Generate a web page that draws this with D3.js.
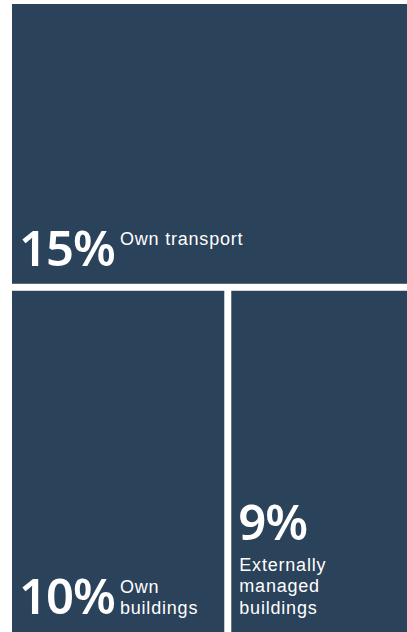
<!DOCTYPE html>
<html>
<head>
<meta charset="utf-8">
<script src="https://cdn.jsdelivr.net/npm/d3@7"></script>
<style>
  body { margin: 0; background: #fff; }
  text { fill: #fff; }
  .num { font-family: "Noto Sans", sans-serif; }
  .lbl { font-family: "Liberation Sans", Arial, sans-serif; }
</style>
</head>
<body>
<div id="chart"></div>
<script>

// emissions share by source (area values, shown rounded)
var sources = ["Own transport", "Own buildings", "Externally managed buildings"];
var shares = [15.4, 10.2, 8.5];
var labelLines = [["Own transport"], ["Own", "buildings"], ["Externally", "managed", "buildings"]];

var W = 407, H = 632;
var margin = { top: 4, right: 0, bottom: 0, left: 12 };
var width = W - margin.left - margin.right,
    height = H - margin.top - margin.bottom;

var data = sources.map(function (s, i) {
    return { name: s, value: shares[i], lines: labelLines[i] };
});

var root = d3.hierarchy({ children: data })
    .sum(function (d) { return d.value || 0; });

d3.treemap()
    .size([width, height])
    .paddingInner(7)
    .tile(d3.treemapSquarify.ratio(1))(root);

var svg = d3.select("#chart")
    .append("svg")
    .attr("width", W)
    .attr("height", H)
    .append("g")
    .attr("transform", "translate(" + margin.left + "," + margin.top + ")");

var cell = svg.selectAll("g.cell")
    .data(root.leaves())
    .join("g")
    .attr("class", "cell")
    .attr("transform", function (d) { return "translate(" + d.x0 + "," + d.y0 + ")"; });

cell.append("rect")
    .attr("width", function (d) { return d.x1 - d.x0; })
    .attr("height", function (d) { return d.y1 - d.y0; })
    .attr("fill", "#2a425a");

var pad = 7, bottomPad = 18, lineH = 21;

cell.each(function (d) {
    var g = d3.select(this);
    var w = d.x1 - d.x0, h = d.y1 - d.y0;
    var stacked = w < 200;   // narrow cells put the label under the number
    var lines = d.data.lines;

    var baseY = stacked ? h - bottomPad - (lines.length - 1) * 21.5 - 31 : h - bottomPad;

    var num = g.append("text")
        .attr("class", "num")
        .attr("x", pad)
        .attr("y", baseY)
        .style("font-size", "49px")
        .style("font-weight", 600)
        .style("letter-spacing", "-1px")
        .text(Math.round(d.data.value) + "%");

    var numW = num.node().getComputedTextLength();

    lines.forEach(function (t, i) {
        g.append("text")
            .attr("class", "lbl")
            .attr("x", stacked ? pad + 1 : pad + numW + 5)
            .attr("y", stacked ? baseY + 31 + i * 21.5 : baseY - lineH + i * lineH)
            .style("font-size", "18px")
            .style("letter-spacing", "0.8px")
            .text(t);
    });
});

</script>
</body>
</html>
